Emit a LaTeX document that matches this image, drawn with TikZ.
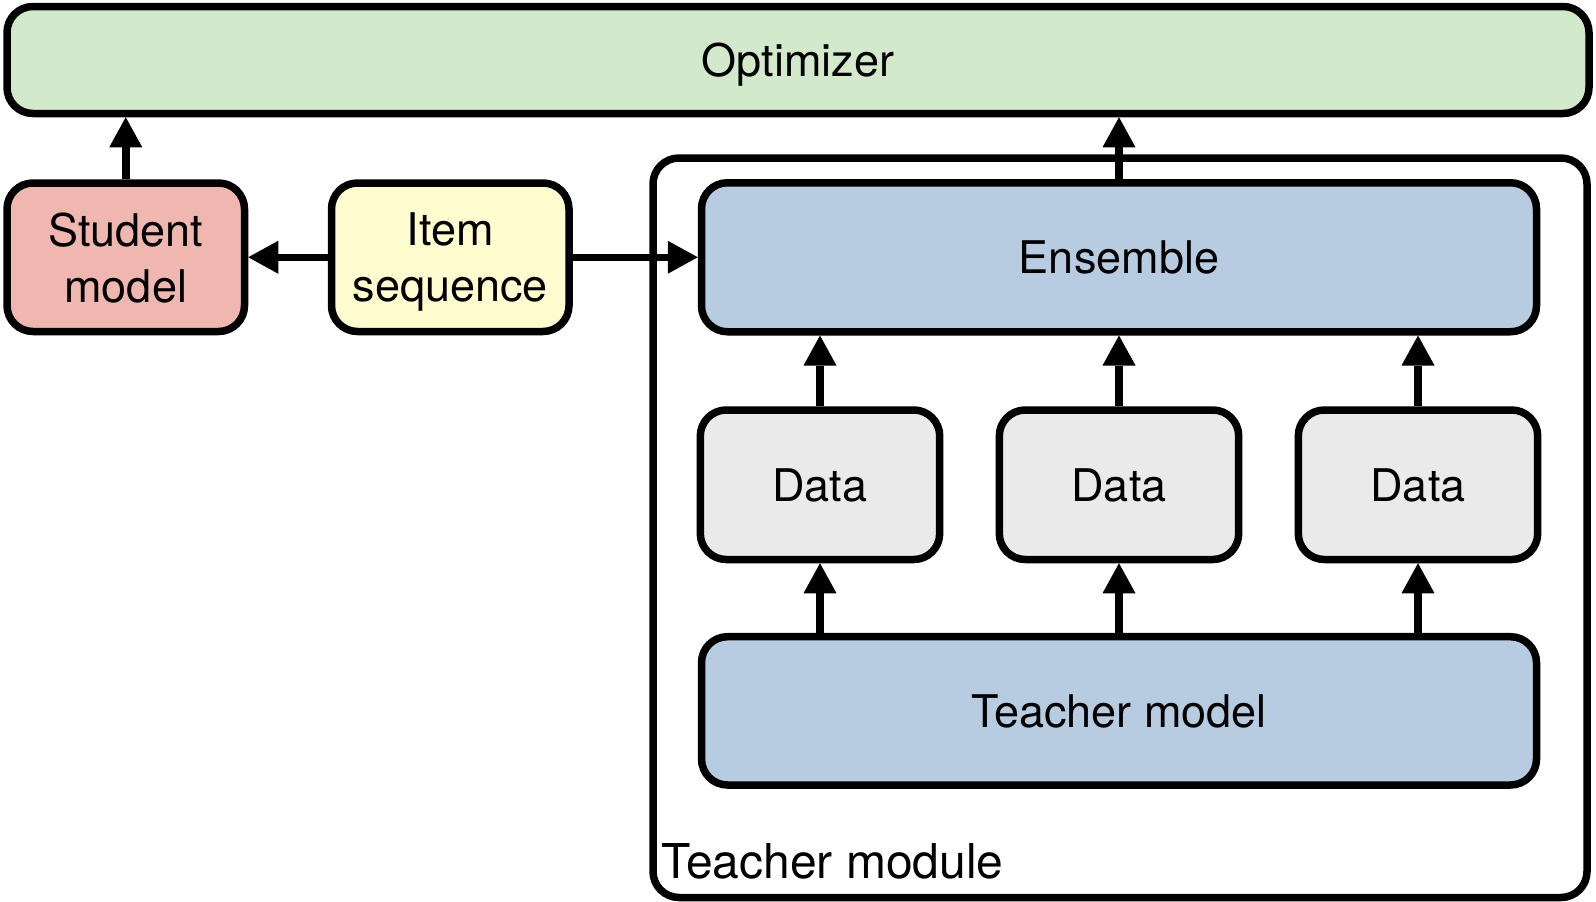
\documentclass[tikz,border=0pt]{standalone}
\usepackage{fontspec}
\setmainfont{TeX Gyre Heros}
\usetikzlibrary{arrows.meta}
\definecolor{optfill}{RGB}{211,233,203}
\definecolor{stufill}{RGB}{240,182,176}
\definecolor{itemfill}{RGB}{255,253,208}
\definecolor{bluefill}{RGB}{184,204,225}
\definecolor{datafill}{RGB}{234,234,234}
\tikzset{
  box/.style={draw=black, line width=7.5pt, rounded corners=26pt, rectangle, inner sep=0pt,
    align=center, text depth=0pt, font=\fontsize{45}{56}\selectfont},
  conn/.style={line width=7.5pt, -{Triangle[width=33pt,length=30pt,line width=0pt]}},
}
\begin{document}
\begin{tikzpicture}[x=1pt,y=-1pt]
\useasboundingbox (0,0) rectangle (1596,902);
% containers
\node[box, minimum width=934pt, minimum height=739.5pt] (tmod) at (1120,527.75) {};
\node[anchor=base west, font=\fontsize{48}{56}\selectfont, inner sep=0pt] (tmlabel) at (661,878.5) {Teacher module};
% boxes
\node[box, fill=optfill, minimum width=1582pt, minimum height=107pt] (opt) at (798,60) {Optimizer};
\node[box, fill=stufill, minimum width=237.5pt, minimum height=148.5pt] (stu) at (125.75,257.25) {Student\\model};
\node[box, fill=itemfill, minimum width=237.5pt, minimum height=148.5pt] (item) at (450.25,257.25) {Item\\sequence};
\node[box, fill=bluefill, minimum width=835pt, minimum height=149pt] (ens) at (1119,257.25) {Ensemble};
\node[box, fill=datafill, minimum width=239.4pt, minimum height=149.5pt] (d1) at (820,484.75) {Data};
\node[box, fill=datafill, minimum width=239.4pt, minimum height=149.5pt] (d2) at (1119,484.75) {Data};
\node[box, fill=datafill, minimum width=239.4pt, minimum height=149.5pt] (d3) at (1418,484.75) {Data};
\node[box, fill=bluefill, minimum width=835pt, minimum height=148.3pt] (tm) at (1119,710.85) {Teacher model};
% connectors
\draw[conn] (stu.north) -- (stu.north |- opt.south);
\draw[conn] (item.west) -- (stu.east);
\draw[conn] (item.east) -- (ens.west);
\draw[conn] (ens.north) -- (ens.north |- opt.south);
\draw[conn] (d1.north) -- (d1.north |- ens.south);
\draw[conn] (d2.north) -- (d2.north |- ens.south);
\draw[conn] (d3.north) -- (d3.north |- ens.south);
\draw[conn] (d1.north |- tm.north) -- (d1.south);
\draw[conn] (d2.north |- tm.north) -- (d2.south);
\draw[conn] (d3.north |- tm.north) -- (d3.south);
\end{tikzpicture}
\end{document}
